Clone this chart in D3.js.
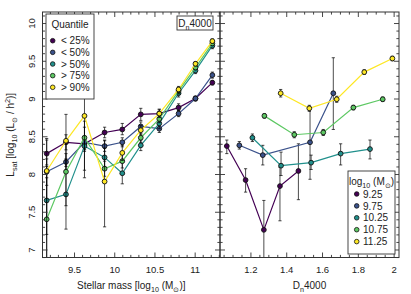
<!DOCTYPE html>
<html><head><meta charset="utf-8">
<script src="https://cdn.jsdelivr.net/npm/d3@7"></script>
<style>
html,body{margin:0;padding:0;background:#fff;}
svg{display:block;font-family:"Liberation Sans",Arial,Helvetica,sans-serif;}
</style></head>
<body>
<svg id="chart" width="411" height="294"></svg>
<script>
// ---------- DATA ----------
const quantileLabels = ["< 25%", "< 50%", "> 50%", "> 75%", "> 90%"];
const massBinLabels = ["9.25", "9.75", "10.25", "10.75", "11.25"];
const colors = ["#440154", "#3b528b", "#21908c", "#5dc863", "#fde725"];

// left panel: stellar mass bins
const massX = [9.16, 9.40, 9.63, 9.88, 10.10, 10.33, 10.56, 10.80, 11.01, 11.22];
const lt25 = [8.27, 8.42, 8.40, 8.55, 8.59, 8.79, 8.80, 8.88, 9.00, 9.21];
const lt25Lo = [8.12, 8.32, 8.32, 8.48, 8.52, 8.71, 8.75, 8.84, 8.97, 9.18];
const lt25Hi = [8.47, 8.52, 8.48, 8.62, 8.67, 8.87, 8.86, 8.93, 9.03, 9.24];
const lt50 = [8.03, 8.16, 8.42, 8.37, 8.42, 8.63, 8.60, 8.80, 9.00, 9.31];
const lt50Lo = [7.85, 8.05, 8.33, 8.30, 8.36, 8.57, 8.55, 8.76, 8.97, 9.27];
const lt50Hi = [8.20, 8.27, 8.50, 8.44, 8.48, 8.69, 8.65, 8.84, 9.03, 9.35];
const gt50 = [7.65, 7.73, 8.37, 8.22, 8.01, 8.38, 8.67, 9.07, 9.37, 9.70];
const gt50Lo = [7.20, 7.27, 8.05, 8.10, 7.87, 8.31, 8.60, 9.02, 9.33, 9.66];
const gt50Hi = [8.10, 8.20, 8.70, 8.34, 8.15, 8.45, 8.74, 9.12, 9.41, 9.74];
const gt75 = [7.40, 8.03, 8.48, 8.07, 8.17, 8.48, 8.73, 9.10, 9.41, 9.73];
const gt75Lo = [6.80, 7.58, 8.30, 7.97, 8.08, 8.42, 8.68, 9.06, 9.38, 9.70];
const gt75Hi = [7.95, 8.45, 8.62, 8.17, 8.26, 8.54, 8.78, 9.14, 9.44, 9.76];
const gt90 = [8.04, 8.44, 8.77, 7.90, 8.28, 8.58, 8.80, 9.12, 9.46, 9.76];
const gt90Lo = [6.85, 8.10, 7.95, 7.30, 8.18, 8.52, 8.75, 9.08, 9.43, 9.73];
const gt90Hi = [8.45, 8.79, 9.02, 8.45, 8.38, 8.64, 8.85, 9.16, 9.49, 9.79];

// right panel: Dn4000 per stellar-mass bin
const m925X = [1.068, 1.173, 1.275, 1.365, 1.468];
const m925 = [8.37, 7.92, 7.26, 7.84, 8.04];
const m925Lo = [8.27, 7.76, 6.80, 7.38, 7.66];
const m925Hi = [8.45, 8.07, 7.65, 8.09, 8.40];
const m975X = [1.138, 1.269, 1.533, 1.663];
const m975 = [8.38, 8.25, 8.42, 9.07];
const m975Lo = [8.33, 8.12, 7.93, 8.59];
const m975Hi = [8.43, 8.38, 8.87, 9.54];
const m1025X = [1.211, 1.371, 1.539, 1.704, 1.868];
const m1025 = [8.48, 8.11, 8.15, 8.27, 8.33];
const m1025Lo = [8.43, 7.98, 8.06, 8.12, 8.20];
const m1025Hi = [8.53, 8.29, 8.25, 8.40, 8.45];
const m1075X = [1.278, 1.445, 1.607, 1.775, 1.939];
const m1075 = [8.77, 8.52, 8.55, 8.88, 8.99];
const m1075Lo = [8.74, 8.48, 8.51, 8.85, 8.96];
const m1075Hi = [8.80, 8.56, 8.59, 8.91, 9.02];
const m1125X = [1.369, 1.529, 1.682, 1.836, 1.993];
const m1125 = [9.07, 8.87, 8.99, 9.35, 9.53];
const m1125Lo = [9.02, 8.83, 8.95, 9.32, 9.50];
const m1125Hi = [9.12, 8.91, 9.03, 9.38, 9.56];

// tick values
const yMajor = [7, 7.5, 8, 8.5, 9, 9.5, 10];
const yMajorLabels = ["7", "7.5", "8", "8.5", "9", "9.5", "10"];
const xLMajor = [9.5, 10, 10.5, 11];
const xLMajorLabels = ["9.5", "10", "10.5", "11"];
const xRMajor = [1.2, 1.4, 1.6, 1.8, 2.0];
const xRMajorLabels = ["1.2", "1.4", "1.6", "1.8", "2"];

// ---------- LAYOUT ----------
const svg = d3.select("#chart");
const pTop = 12, pBottom = 257.5;
const lL = 42.5, lR = 220, rL = 220, rR = 399;
const y = d3.scaleLinear().domain([6.894, 10.146]).range([pBottom, pTop]);
const xL = d3.scaleLinear().domain([9.108, 11.315]).range([lL, lR]);
const xR = d3.scaleLinear().domain([1.030, 2.030]).range([rL, rR]);

const stepRange = (a, b, s) => d3.range(Math.round(a / s), Math.round(b / s) + 1).map(i => +(i * s).toFixed(3));
const yMinor = stepRange(6.9, 10.1, 0.1).filter(v => !yMajor.some(m => Math.abs(m - v) < 1e-6));
const xLMinor = stepRange(9.2, 11.3, 0.1).filter(v => !xLMajor.some(m => Math.abs(m - v) < 1e-6));
const xRMinor = stepRange(1.05, 2.0, 0.05).filter(v => !xRMajor.some(m => Math.abs(m - v) < 1e-6));

const axisColor = "#333";
const MAJ = 5, MIN = 2.6;

function styleAxis(g) {
  g.select(".domain").remove();
  g.selectAll("line").attr("stroke", axisColor).attr("stroke-width", 0.9);
  g.selectAll("text").attr("fill", "#222").attr("font-size", 9.5).attr("font-family", "Liberation Sans, Arial, sans-serif");
}

function panelAxes(x, x0, x1, xMaj, xMajLab, xMin, leftLabels) {
  svg.append("g").attr("transform", `translate(0,${pBottom})`)
    .call(d3.axisBottom(x).tickValues(xMaj).tickFormat((d, i) => xMajLab[i]).tickSizeInner(-MAJ).tickSizeOuter(0).tickPadding(9))
    .call(styleAxis);
  svg.append("g").attr("transform", `translate(0,${pBottom})`)
    .call(d3.axisBottom(x).tickValues(xMin).tickFormat("").tickSizeInner(-MIN).tickSizeOuter(0))
    .call(styleAxis);
  svg.append("g").attr("transform", `translate(0,${pTop})`)
    .call(d3.axisTop(x).tickValues(xMaj).tickFormat("").tickSizeInner(-MAJ).tickSizeOuter(0))
    .call(styleAxis);
  svg.append("g").attr("transform", `translate(0,${pTop})`)
    .call(d3.axisTop(x).tickValues(xMin).tickFormat("").tickSizeInner(-MIN).tickSizeOuter(0))
    .call(styleAxis);
  const gl = svg.append("g").attr("transform", `translate(${x0},0)`)
    .call(d3.axisLeft(y).tickValues(yMajor).tickFormat((d, i) => leftLabels ? yMajorLabels[i] : "").tickSizeInner(-MAJ).tickSizeOuter(0).tickPadding(8))
    .call(styleAxis);
  gl.selectAll("text").attr("transform", "rotate(-90)").attr("x", 0).attr("y", -8).attr("dy", null).attr("text-anchor", "middle");
  svg.append("g").attr("transform", `translate(${x0},0)`)
    .call(d3.axisLeft(y).tickValues(yMinor).tickFormat("").tickSizeInner(-MIN).tickSizeOuter(0))
    .call(styleAxis);
  svg.append("g").attr("transform", `translate(${x1},0)`)
    .call(d3.axisRight(y).tickValues(yMajor).tickFormat("").tickSizeInner(-MAJ).tickSizeOuter(0))
    .call(styleAxis);
  svg.append("g").attr("transform", `translate(${x1},0)`)
    .call(d3.axisRight(y).tickValues(yMinor).tickFormat("").tickSizeInner(-MIN).tickSizeOuter(0))
    .call(styleAxis);
  svg.append("rect").attr("x", x0).attr("y", pTop).attr("width", x1 - x0).attr("height", pBottom - pTop)
    .attr("fill", "none").attr("stroke", axisColor).attr("stroke-width", 1);
}

svg.append("clipPath").attr("id", "clipL").append("rect")
  .attr("x", lL).attr("y", pTop).attr("width", lR - lL).attr("height", pBottom - pTop);
svg.append("clipPath").attr("id", "clipR").append("rect")
  .attr("x", rL).attr("y", pTop).attr("width", rR - rL).attr("height", pBottom - pTop);

function drawSeries(g, x, xs, ys, lo, hi, color) {
  const line = d3.line().x((d, i) => x(xs[i])).y(d => y(d));
  g.append("path").datum(ys).attr("d", line).attr("fill", "none")
    .attr("stroke", color).attr("stroke-width", 1.2);
  const eb = g.append("g").attr("stroke", "#000").attr("stroke-opacity", 0.7).attr("stroke-width", 1);
  ys.forEach((v, i) => {
    const px = x(xs[i]);
    eb.append("line").attr("x1", px).attr("x2", px).attr("y1", y(lo[i])).attr("y2", y(hi[i]));
    eb.append("line").attr("x1", px - 1.6).attr("x2", px + 1.6).attr("y1", y(lo[i])).attr("y2", y(lo[i]));
    eb.append("line").attr("x1", px - 1.6).attr("x2", px + 1.6).attr("y1", y(hi[i])).attr("y2", y(hi[i]));
  });
  g.selectAll(null).data(ys).enter().append("circle")
    .attr("cx", (d, i) => x(xs[i])).attr("cy", d => y(d)).attr("r", 2.4)
    .attr("fill", color).attr("stroke", "#111").attr("stroke-width", 0.9);
}

const gL = svg.append("g").attr("clip-path", "url(#clipL)");
const leftSeries = [[lt25, lt25Lo, lt25Hi], [lt50, lt50Lo, lt50Hi], [gt50, gt50Lo, gt50Hi], [gt75, gt75Lo, gt75Hi], [gt90, gt90Lo, gt90Hi]];
leftSeries.forEach((s, k) => drawSeries(gL, xL, massX, s[0], s[1], s[2], colors[k]));

const gR = svg.append("g").attr("clip-path", "url(#clipR)");
const rightSeries = [[m925X, m925, m925Lo, m925Hi], [m975X, m975, m975Lo, m975Hi], [m1025X, m1025, m1025Lo, m1025Hi], [m1075X, m1075, m1075Lo, m1075Hi], [m1125X, m1125, m1125Lo, m1125Hi]];
rightSeries.forEach((s, k) => drawSeries(gR, xR, s[0], s[1], s[2], s[3], colors[k]));

panelAxes(xL, lL, lR, xLMajor, xLMajorLabels, xLMinor, true);
panelAxes(xR, rL, rR, xRMajor, xRMajorLabels, xRMinor, false);

function richText(sel, parts, size) {
  const small = size * 0.72;
  let shift = 0;
  sel.attr("font-size", size);
  parts.forEach(([t, kind]) => {
    const target = kind === "sub" ? size * 0.28 : kind === "sup" ? -size * 0.38 : 0;
    sel.append("tspan").attr("dy", target - shift).attr("font-size", kind === "n" ? size : small).text(t);
    shift = target;
  });
}

const t1 = svg.append("text").attr("x", (lL + lR) / 2).attr("y", 289).attr("text-anchor", "middle").attr("fill", "#222");
richText(t1, [["Stellar mass [log", "n"], ["10", "sub"], [" (M", "n"], ["\u2299", "sub"], [")]", "n"]], 10);
const t2 = svg.append("text").attr("x", (rL + rR) / 2).attr("y", 289).attr("text-anchor", "middle").attr("fill", "#222");
richText(t2, [["D", "n"], ["n", "sub"], ["4000", "n"]], 10);
const t3 = svg.append("text").attr("transform", `translate(14,${(pTop + pBottom) / 2}) rotate(-90)`).attr("text-anchor", "middle").attr("fill", "#222");
richText(t3, [["L", "n"], ["sat", "sub"], [" [log", "n"], ["10", "sub"], [" (L", "n"], ["\u2299", "sub"], [" / h", "n"], ["2", "sup"], [")]", "n"]], 10);

svg.append("rect").attr("x", 177).attr("y", 16).attr("width", 36).attr("height", 14)
  .attr("fill", "#fff").attr("stroke", axisColor).attr("stroke-width", 0.9);
const t4 = svg.append("text").attr("x", 195).attr("y", 27).attr("text-anchor", "middle").attr("fill", "#222");
richText(t4, [["D", "n"], ["n", "sub"], ["4000", "n"]], 10);

function legend(x0, y0, w, h, titleParts, labels, rowY0, rowStep, markerX, textX) {
  svg.append("rect").attr("x", x0).attr("y", y0).attr("width", w).attr("height", h)
    .attr("fill", "#fff").attr("stroke", axisColor).attr("stroke-width", 0.9);
  const tt = svg.append("text").attr("x", x0 + w / 2).attr("y", y0 + 14).attr("text-anchor", "middle").attr("fill", "#222");
  richText(tt, titleParts, 10);
  labels.forEach((lab, i) => {
    const cy = rowY0 + i * rowStep;
    svg.append("circle").attr("cx", markerX).attr("cy", cy).attr("r", 2.3)
      .attr("fill", colors[i]).attr("stroke", "#111").attr("stroke-width", 0.8);
    svg.append("text").attr("x", textX).attr("y", cy + 3.6).attr("font-size", 10).attr("fill", "#222").text(lab);
  });
}
legend(46, 14, 48, 85, [["Quantile", "n"]], quantileLabels, 40.7, 11.65, 52.7, 61);
legend(348, 171, 47, 83, [["log", "n"], ["10", "sub"], [" (M", "n"], ["\u2299", "sub"], [")", "n"]], massBinLabels, 194, 11.9, 356.7, 363);
</script>
</body></html>
